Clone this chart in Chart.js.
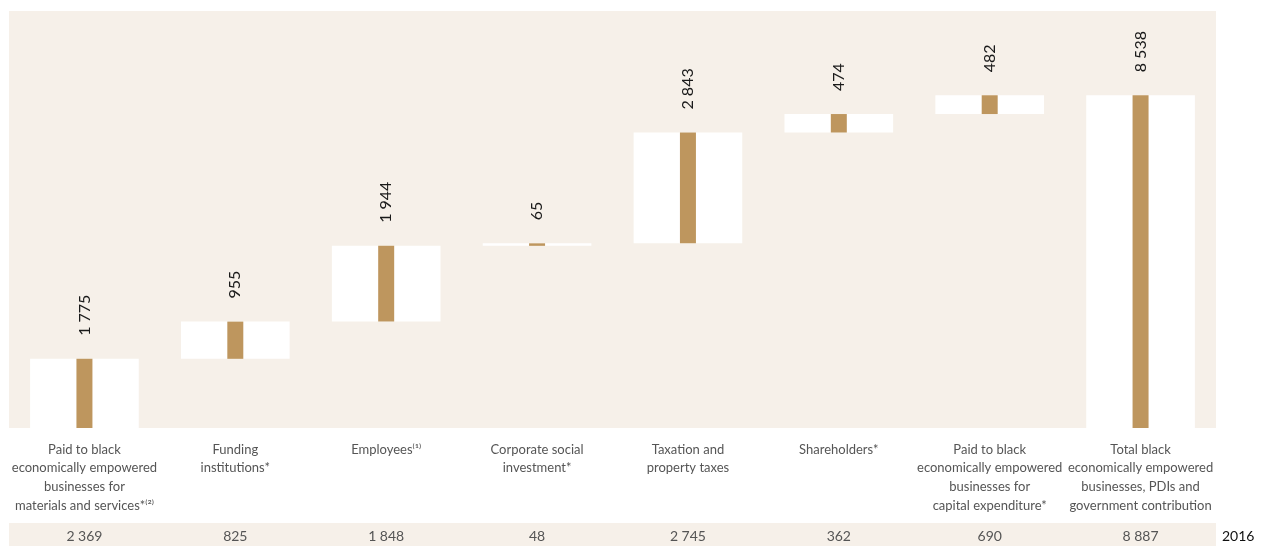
<!DOCTYPE html>
<html>
<head>
<meta charset="utf-8">
<script src="https://cdn.jsdelivr.net/npm/chart.js@4.4.0/dist/chart.umd.min.js"></script>
<style>
  html, body { margin: 0; padding: 0; background: #fff; }
  #wrap { width: 1262px; height: 546px; position: relative; }
</style>
</head>
<body>
<div id="wrap"><canvas id="myChart"></canvas></div>
<script>
// categories (multi-line labels)
const categories = [
  ["Paid to black", "economically empowered", "businesses for", "materials and services*\u207D\u00B2\u207E"],
  ["Funding", "institutions*"],
  ["Employees\u207D\u00B9\u207E"],
  ["Corporate social", "investment*"],
  ["Taxation and", "property taxes"],
  ["Shareholders*"],
  ["Paid to black", "economically empowered", "businesses for", "capital expenditure*"],
  ["Total black", "economically empowered", "businesses, PDIs and", "government contribution"]
];
// 2017 values (waterfall steps), last one is the total
const values2017 = [1775, 955, 1944, 65, 2843, 474, 482, 8538];
// 2016 comparison row
const values2016 = [2369, 825, 1848, 48, 2745, 362, 690, 8887];
const prevYearLabel = "2016";

const BEIGE = "#f6f0e9";
const TAN = "#be965e";
const FONT = "Lato, 'Noto Sans', sans-serif";

//? thousands with a space: 1775 -> "1 775"
let fmt = (v) => String(v).replace(/\B(?=(\d{3})+(?!\d))/g, " ");

// floating ranges for the waterfall
let ranges = [];
let running = 0;
values2017.forEach((v, i) => {
  if (i === values2017.length - 1) {
    ranges.push([0, v]);
  } else {
    ranges.push([running, running + v]);
    running += v;
  }
});

const panelPlugin = {
  id: "panel",
  beforeDraw(chart) {
    const { ctx, chartArea } = chart;
    ctx.save();
    ctx.fillStyle = BEIGE;
    ctx.fillRect(chartArea.left, chartArea.top, chartArea.right - chartArea.left, chartArea.bottom - chartArea.top);
    // bottom band for previous year
    ctx.fillRect(chartArea.left, 523, chartArea.right - chartArea.left, 23);
    ctx.restore();
  },
  afterDatasetsDraw(chart) {
    const { ctx, chartArea } = chart;
    const meta = chart.getDatasetMeta(1);
    ctx.save();
    ctx.font = "16px " + FONT;
    ctx.fillStyle = "#1a1a1a";
    ctx.textAlign = "left";
    ctx.textBaseline = "middle";
    meta.data.forEach((bar, i) => {
      const top = Math.min(bar.y, bar.base);
      ctx.save();
      ctx.translate(bar.x, top - 23);
      ctx.rotate(-Math.PI / 2);
      ctx.fillText(fmt(values2017[i]), 0, 0);
      ctx.restore();
    });
    // previous year row
    const xScale = chart.scales.x;
    ctx.font = "14px " + FONT;
    ctx.fillStyle = "#555";
    ctx.textAlign = "center";
    values2016.forEach((v, i) => {
      ctx.fillText(fmt(v), xScale.getPixelForValue(i), 536);
    });
    ctx.fillStyle = "#111";
    ctx.textAlign = "left";
    ctx.fillText(prevYearLabel, chartArea.right + 6, 536);
    ctx.restore();
  }
};

const ctx = document.querySelector("#myChart").getContext("2d");
const myChart = new Chart(ctx, {
  type: "bar",
  data: {
    labels: categories,
    datasets: [
      {
        data: ranges,
        backgroundColor: "#ffffff",
        barPercentage: 0.72,
        categoryPercentage: 1,
        grouped: false,
        order: 2
      },
      {
        data: ranges,
        backgroundColor: TAN,
        barPercentage: 0.106,
        categoryPercentage: 1,
        grouped: false,
        order: 1
      }
    ]
  },
  options: {
    responsive: true,
    maintainAspectRatio: false,
    animation: false,
    layout: { padding: { left: 9, right: 46, top: 11, bottom: 0 } },
    plugins: { legend: { display: false }, tooltip: { enabled: false } },
    scales: {
      x: {
        grid: { display: false, drawTicks: false },
        border: { display: false },
        ticks: {
          color: "#555",
          font: { family: FONT, size: 13, lineHeight: 1.45 },
          padding: 12,
          maxRotation: 0,
          autoSkip: false
        },
        afterFit: (scale) => {
          scale.height = 118;
          scale.paddingLeft = 0;
          scale.paddingRight = 0;
        }
      },
      y: {
        display: false,
        min: 0,
        max: 10700
      }
    }
  },
  plugins: [panelPlugin]
});
</script>
</body>
</html>
